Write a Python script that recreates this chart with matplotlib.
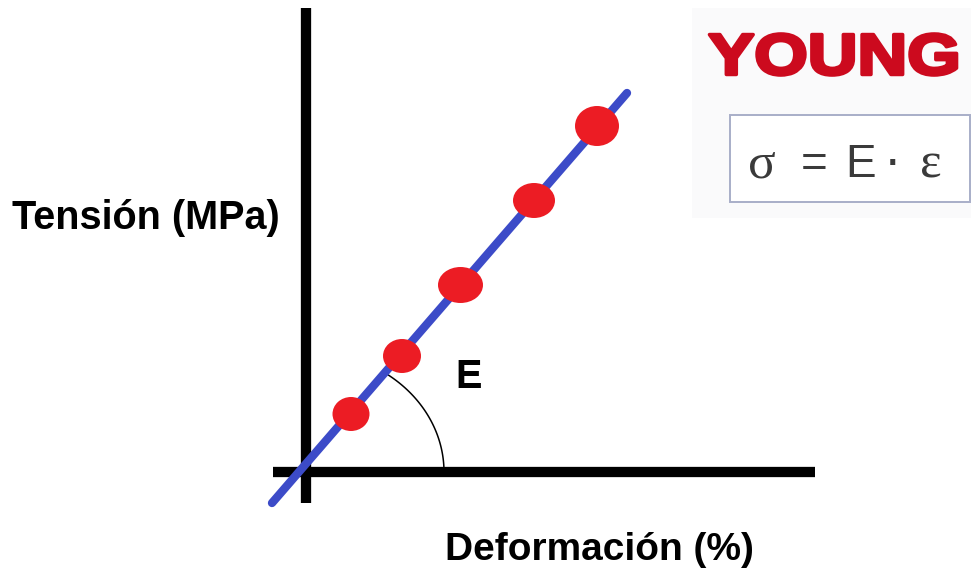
import numpy as np
import matplotlib
matplotlib.use("Agg")
import matplotlib.pyplot as plt
from matplotlib.patches import Ellipse, Rectangle, PathPatch
from matplotlib.textpath import TextPath
from matplotlib.font_manager import FontProperties
from matplotlib.transforms import Affine2D

# data (strain in %, stress in MPa, arbitrary scale)
strain_pct = [0.455, 0.965, 1.55, 2.285, 2.915]
stress_mpa = [58, 116, 187, 271.5, 346]
fit_strain = [-0.335, 3.215]
fit_stress = [-31, 379]

x_label = "Deformación (%)"
y_label = "Tensión (MPa)"
slope_label = "E"
title = "YOUNG"
formula = ["σ", "=", "E", "·", "ε"]

# dot sizes in pixels (hand drawn, slightly uneven)
dot_w = [37, 38, 45, 42, 44]
dot_h = [34, 34, 36, 35, 40]

W, H = 971, 569
fig = plt.figure(figsize=(W / 100, H / 100), dpi=100)
fig.patch.set_facecolor("white")

# data axes: origin of the sketch sits at pixel (305.5, 472)
ax = fig.add_axes([0, 0, 1, 1])
ox, oy = 305.5, 472
px_x, px_y = 100.0, 1.0  # pixels per unit
ax.set_xlim(-ox / px_x, (W - ox) / px_x)
ax.set_ylim(-(H - oy) / px_y, oy / px_y)
ax.axis("off")

# axes drawn as thick black lines
ax.plot([0, 0], [-31, 464], color="black", lw=7.4, solid_capstyle="butt", zorder=2)
ax.plot([-0.325, 5.095], [0, 0], color="black", lw=7.4, solid_capstyle="butt", zorder=2)

# fitted line
ax.plot(fit_strain, fit_stress, color="#3c4bc8", lw=6.0, solid_capstyle="round", zorder=3)

# angle arc for E
t = np.linspace(0, np.radians(55), 60)
ax.plot(138.5 * np.cos(t) / px_x, 121 * np.sin(t) / px_y, color="black", lw=1.1, zorder=2)

# measured points
for x, y, w, h in zip(strain_pct, stress_mpa, dot_w, dot_h):
    ax.add_patch(Ellipse((x, y), w / px_x, h / px_y, facecolor="#ec1c24",
                         edgecolor="none", zorder=4))

# overlay in pixel coordinates for text and the formula box
ov = fig.add_axes([0, 0, 1, 1], facecolor="none")
ov.set_xlim(0, W)
ov.set_ylim(H, 0)
ov.axis("off")

bold = dict(family="Liberation Sans", weight="bold", color="black")
ov.text(12, 229, y_label, fontsize=28.5, ha="left", va="baseline", **bold)
ov.text(445, 560, x_label, fontsize=28, ha="left", va="baseline", **bold)
ov.text(455, 388, slope_label, fontsize=28.5, ha="left", va="baseline", **bold)

# faint panel behind the title and formula
ov.add_patch(Rectangle((692, 8), 279, 210, facecolor="#fafafb", edgecolor="none", zorder=0))

# YOUNG stretched to the wide heavy lettering
tp = TextPath((0, 0), title, size=1, prop=FontProperties(family="Liberation Sans", weight="bold"))
ext = tp.get_extents()
tr = Affine2D().translate(-ext.x0, -ext.y0).scale(247 / ext.width, -41 / ext.height).translate(709.5, 75)
ov.add_patch(PathPatch(tr.transform_path(tp), facecolor="#cc0a1e", edgecolor="#cc0a1e",
                       lw=2.6, joinstyle="round", zorder=2))

# formula box
ov.add_patch(Rectangle((730, 115), 240, 87, facecolor="white", edgecolor="#a8aec8",
                       lw=1.4, zorder=1))
fams = ["Liberation Serif", "Liberation Sans", "Liberation Sans", "Liberation Sans", "Liberation Serif"]
sizes = [37, 33, 33, 38, 37]
for s, xc, fam, fs in zip(formula, [762, 814, 861, 892, 931], fams, sizes):
    ov.text(xc, 177, s, fontsize=fs, ha="center", va="baseline",
            family=fam, color="#3a3a3a", zorder=3)

fig.savefig("out.png", dpi=100)
